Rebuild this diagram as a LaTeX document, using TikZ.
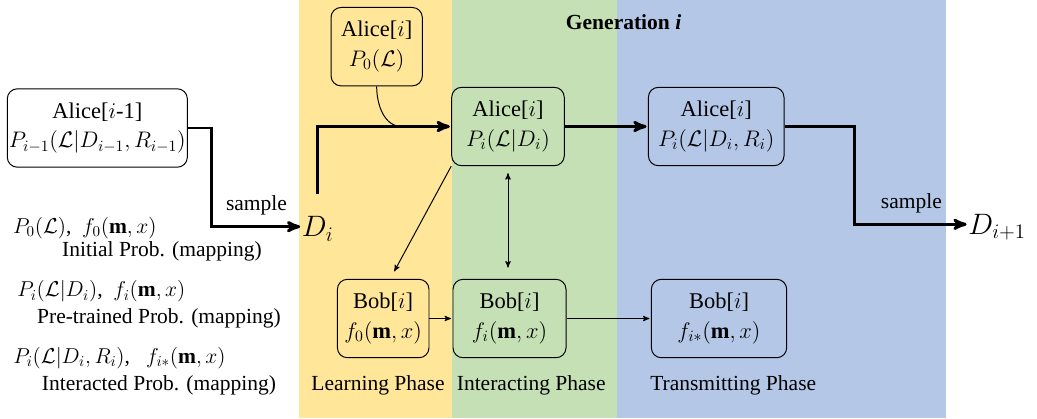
\RequirePackage{fix-cm}
\documentclass[tikz,border=0pt]{standalone}
\usepackage{amsmath}
\usepackage{amssymb}
\usepackage{fontspec}
\setmainfont{Liberation Serif}
\usetikzlibrary{arrows}

\definecolor{learnY}{HTML}{FFE699}
\definecolor{interG}{HTML}{C5E0B4}
\definecolor{transB}{HTML}{B4C7E7}

\begin{document}
\begin{tikzpicture}
	[>=stealth', shorten >=1pt,
		agent node/.style={draw, rounded corners=0.25cm, line width=0.7pt, align=center, inner sep=0pt, minimum height=1.96cm, font=\fontsize{16}{21}\selectfont},
		data node/.style={inner sep=0pt, text depth=0pt, font=\fontsize{21}{26}\selectfont},
		note node/.style={inner sep=0pt, font=\fontsize{15.3}{18}\selectfont},
		bold line/.style={->, line width=2.1pt},
		thin line/.style={->, line width=0.7pt}]

	\useasboundingbox (0,0) rectangle (25.925,-10.45);

	% phases
	\fill[learnY] (7.475,0) rectangle (11.3,-10.45);
	\fill[interG] (11.3,0) rectangle (15.425,-10.45);
	\fill[transB] (15.425,0) rectangle (23.65,-10.45);

	\node[agent node, fill=white, minimum width=4.5cm] (prev) at (2.433,-3.2) {Alice[$i$-1]\\ $P_{i-1}(\mathcal{L}|D_{i-1},R_{i-1})$};
	\node[agent node, fill=learnY, minimum width=2.283cm] (init) at (9.417,-1.167) {Alice[$i$]\\ $P_0(\mathcal{L})$};
	\node[agent node, fill=interG, minimum width=2.815cm] (pre) at (12.7,-3.163) {Alice[$i$]\\ $P_i(\mathcal{L}|D_i)$};
	\node[agent node, fill=transB, minimum width=3.39cm] (post) at (17.905,-3.163) {Alice[$i$]\\ $P_i(\mathcal{L}|D_i,R_i)$};
	\node[agent node, fill=learnY, minimum width=2.29cm] (bobL) at (9.58,-7.963) {Bob[$i$]\\ $f_0(\mathbf{m},x)$};
	\node[agent node, fill=interG, minimum width=2.825cm] (bobI) at (12.7375,-7.963) {Bob[$i$]\\ $f_i(\mathbf{m},x)$};
	\node[agent node, fill=transB, minimum width=3.383cm] (bobT) at (17.975,-7.963) {Bob[$i$]\\ $f_{i*}(\mathbf{m},x)$};

	\node[data node, anchor=west] (Di) at (7.54,-5.667) {$D_i$};
	\node[data node, anchor=west] (Dnext) at (24.2,-5.608) {$D_{i+1}$};

	\node[note node] (gen) at (15.59,-0.55) {\textbf{Generation \textit{i}}};
	\node[note node] (learn) at (9.45,-9.625) {Learning Phase};
	\node[note node] (inter) at (13.28,-9.625) {Interacting Phase};
	\node[note node] (trans) at (18.33,-9.625) {Transmitting Phase};

	% legend
	\node[note node, anchor=west] (p0) at (0.32,-5.7) {$P_0(\mathcal{L})$,\ \ $f_0(\mathbf{m},x)$};
	\node[note node] (p0txt) at (4.05,-6.29) {Initial Prob. (mapping)};
	\node[note node, anchor=west] (pi) at (0.425,-7.29) {$P_i(\mathcal{L}|D_i)$,\ \ $f_i(\mathbf{m},x)$};
	\node[note node] (pitxt) at (3.975,-7.95) {Pre-trained Prob. (mapping)};
	\node[note node, anchor=west] (pr) at (0.325,-8.95) {$P_i(\mathcal{L}|D_i,R_i)$,\ \ \ $f_{i*}(\mathbf{m},x)$};
	\node[note node] (prtxt) at (3.975,-9.625) {Interacted Prob. (mapping)};

	\coordinate (merge) at (10.08,-3.163);

	\draw[bold line] (prev.east) -- ++(0.59,0) |- node[pos=0.75, above=7pt, note node] {sample} (Di.west);
	\draw[bold line, shorten <=0.55cm] (Di.north) |- (pre.west);
	\draw[line width=0.7pt] (init.south) to[out=-90, in=180] (merge);
	\draw[bold line] (pre) -- (post);
	\draw[bold line] (post.east) -- ++(1.76,0) |- node[pos=0.75, above=7pt, note node] {sample} (Dnext.west);
	% \draw[thin line] (pre) -- (bobI);
	\draw[thin line, shorten >=6pt] (pre.south west) -- ([xshift=5pt]bobL.north);
	\draw[thin line, <->, shorten <=5pt, shorten >=8pt] (pre.south) -- (pre.south |- bobI.north);
	\draw[thin line] (bobL) -- (bobI);
	\draw[thin line] (bobI) -- (bobT);

\end{tikzpicture}
\end{document}
